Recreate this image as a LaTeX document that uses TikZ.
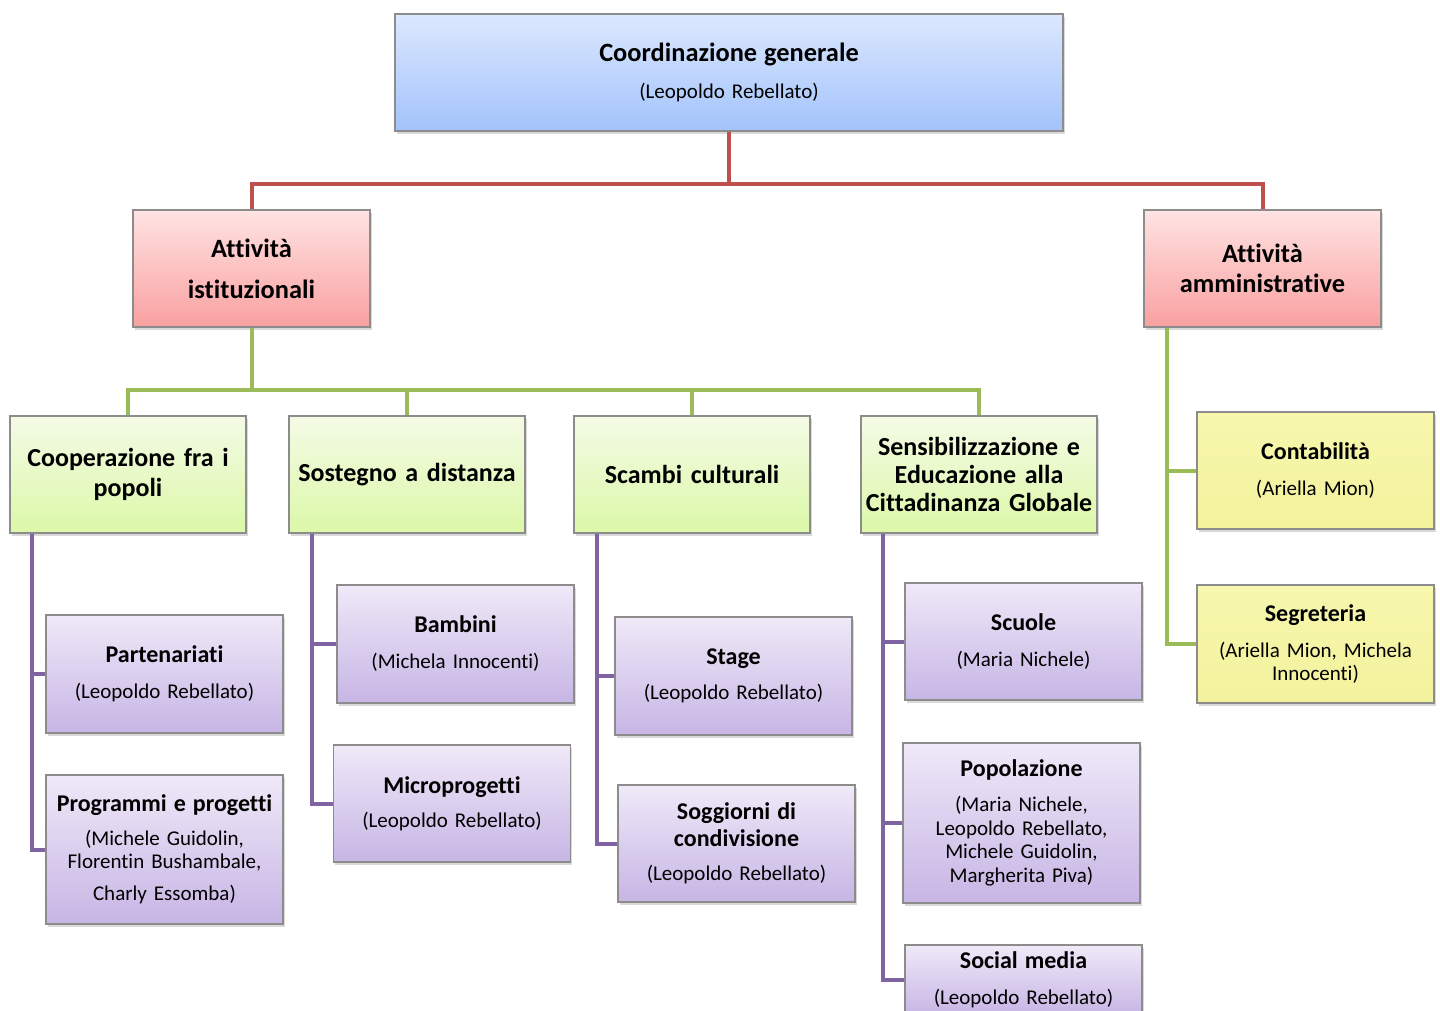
\documentclass[tikz,border=0pt]{standalone}
\usepackage{fontspec}
\setmainfont{Carlito}[Ligatures=NoCommon]
\usetikzlibrary{shadows,calc}

\definecolor{redln}{HTML}{C0504D}
\definecolor{greenln}{HTML}{9BBB59}
\definecolor{purpleln}{HTML}{8064A2}

\newcommand{\hd}[1]{{\fontsize{13.2}{15}\selectfont\bfseries #1}}
\newcommand{\shd}[1]{{\fontsize{12}{14}\selectfont\bfseries #1}}

\tikzset{
  orgbox/.style={draw=black!45, line width=0.6pt, align=center, inner sep=2pt,
    drop shadow={shadow xshift=0.8pt, shadow yshift=-1.5pt, opacity=0.3},
    font=\fontsize{10.5}{11.75}\selectfont},
  topbox/.style={orgbox, top color={rgb,255:red,220;green,232;blue,254}, bottom color={rgb,255:red,163;green,195;blue,251},
    minimum width=334pt, minimum height=58.5pt, text width=320pt},
  areabox/.style={orgbox, top color={rgb,255:red,255;green,227;blue,227}, bottom color={rgb,255:red,249;green,160;blue,160},
    minimum width=118.5pt, minimum height=58.5pt, text width=114pt},
  sectbox/.style={orgbox, top color={rgb,255:red,244;green,251;blue,230}, bottom color={rgb,255:red,220;green,248;blue,168},
    minimum width=118pt, minimum height=58.5pt, text width=114pt, font=\fontsize{13}{15}\selectfont\bfseries},
  adminbox/.style={orgbox, top color={rgb,255:red,247;green,247;blue,174}, bottom color={rgb,255:red,243;green,242;blue,156},
    minimum width=118.5pt, text width=114pt},
  unitbox/.style={orgbox, top color={rgb,255:red,239;green,233;blue,248}, bottom color={rgb,255:red,199;green,181;blue,229},
    minimum width=118.5pt, text width=114pt},
  redline/.style={redln, line width=2pt},
  greenline/.style={greenln, line width=2pt},
  purpleline/.style={purpleln, line width=2pt}
}

\begin{document}
\begin{tikzpicture}[x=0.5pt, y=-0.5pt]
\useasboundingbox (0,0) rectangle (1440,1011);

% Top level
\node[topbox] (coord) at (729,72.5) {\hd{Coordinazione generale}\\[6.75pt](Leopoldo Rebellato)};

% Areas
\node[areabox] (ist) at (251.5,268.5) {\hd{Attività}\\[8.75pt]\hd{istituzionali}};
\node[areabox] (amm) at (1262.5,268.5) {\hd{Attività}\\[3.25pt]\hd{amministrative}};

% Sectors
\node[sectbox] (coop) at (128,474.5) {Cooperazione fra i\\popoli};
\node[sectbox] (sost) at (407,474.5) {Sostegno a distanza};
\node[sectbox] (scam) at (692,474.5) {Scambi culturali};
\node[sectbox] (sens) at (979,474.5) {Sensibilizzazione e\\[-1pt]Educazione alla\\[-1pt]Cittadinanza Globale};

% Administration
\node[adminbox, minimum height=58.5pt] (cont) at (1315.5,470.5) {\shd{Contabilità}\\[6.25pt](Ariella Mion)};
\node[adminbox, minimum height=59pt] (seg) at (1315.5,644) {\shd{Segreteria}\\[6.25pt](Ariella Mion, Michela\\Innocenti)};

% Units
\node[unitbox, minimum height=59pt] (part) at (164.5,674) {\shd{Partenariati}\\[6.25pt](Leopoldo Rebellato)};
\node[unitbox, minimum height=74.5pt] (prog) at (164.5,849.5) {\shd{Programmi e progetti}\\[5.25pt](Michele Guidolin,\\Florentin Bushambale,\\[4.25pt]Charly Essomba)};
\node[unitbox, minimum height=59pt] (bamb) at (455.5,644) {\shd{Bambini}\\[6.25pt](Michela Innocenti)};
\node[unitbox, minimum height=58.5pt] (micro) at (452,803.5) {\shd{Microprogetti}\\[5.25pt](Leopoldo Rebellato)};
\node[unitbox, minimum height=59pt] (stage) at (733.5,676) {\shd{Stage}\\[5.75pt](Leopoldo Rebellato)};
\node[unitbox, minimum height=58.5pt] (sogg) at (736.5,843.5) {\shd{Soggiorni di}\\[1.75pt]\shd{condivisione}\\[5.25pt](Leopoldo Rebellato)};
\node[unitbox, minimum height=58.5pt] (scuole) at (1023.5,641.5) {\shd{Scuole}\\[6.25pt](Maria Nichele)};
\node[unitbox, minimum height=80pt] (popol) at (1021.5,823) {\shd{Popolazione}\\[5.75pt](Maria Nichele,\\Leopoldo Rebellato,\\Michele Guidolin,\\Margherita Piva)};
\node[unitbox, minimum height=35pt] (social) at (1023.5,980) {\shd{Social media}\\[6.25pt](Leopoldo Rebellato)};

% Connectors
\coordinate (redbar) at (0,184);
\coordinate (greenbar) at (0,390);
\draw[redline] (coord.south) -- (coord.south |- redbar) -| (ist.north);
\draw[redline] (coord.south) -- (coord.south |- redbar) -| (amm.north);
\foreach \s in {coop,sost,scam,sens}
  \draw[greenline] (ist.south) -- (ist.south |- greenbar) -| (\s.north);
\foreach \b in {cont,seg}
  \draw[greenline] ($(amm.south west)+(24,0)$) |- (\b.west);
\foreach \a/\b/\dx in {coop/part/23, coop/prog/23, sost/bamb/24, sost/micro/24, scam/stage/24, scam/sogg/24, sens/scuole/23, sens/popol/23, sens/social/23}
  \draw[purpleline] ($(\a.south west)+(\dx,0)$) |- (\b.west);
\end{tikzpicture}
\end{document}
